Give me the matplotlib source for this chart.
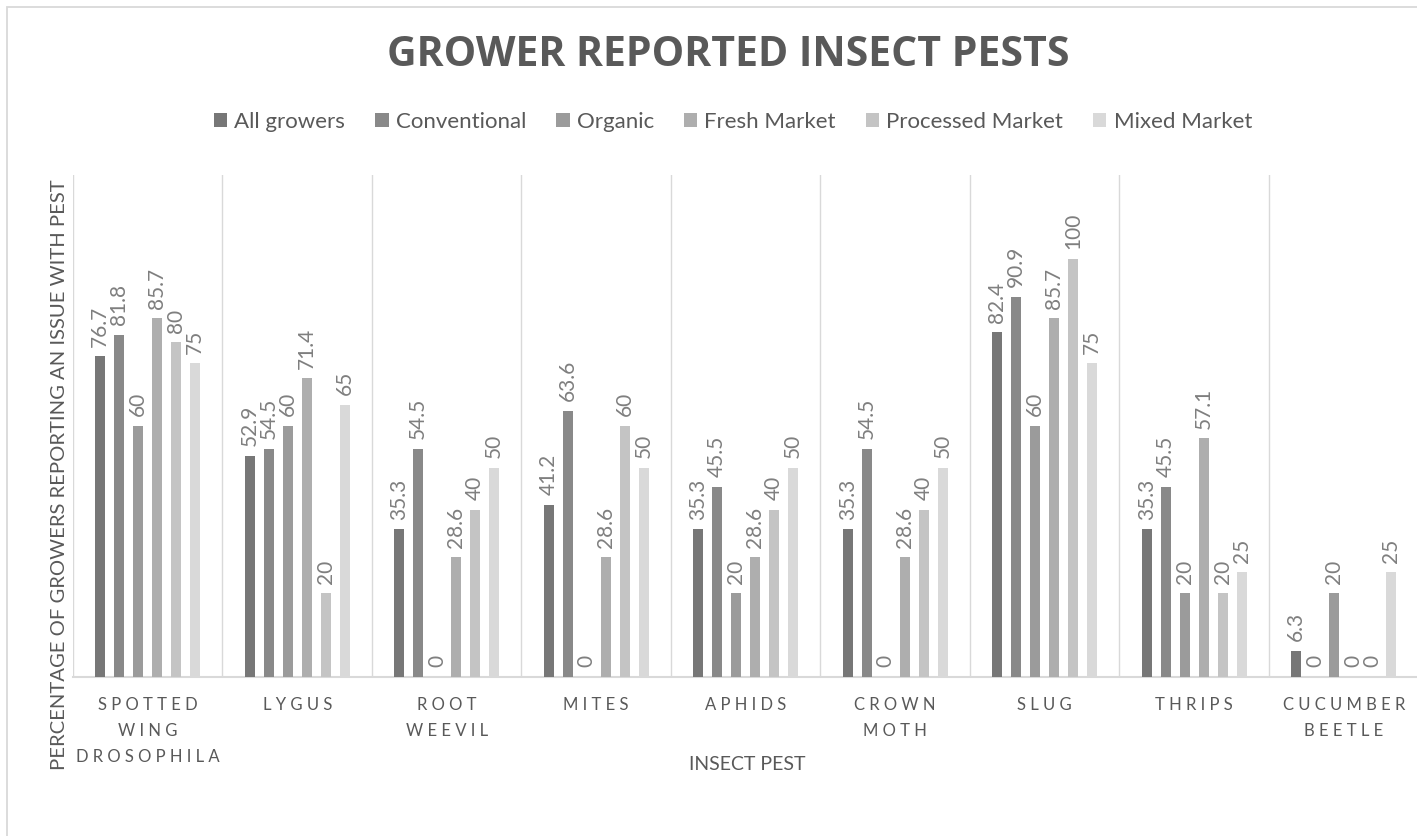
import matplotlib
matplotlib.use("Agg")
import matplotlib.pyplot as plt
from matplotlib.patches import Rectangle
import numpy as np

plt.rcParams['font.family'] = ['Lato', 'DejaVu Sans']

# data
pests = ["SPOTTED\nWING\nDROSOPHILA", "LYGUS", "ROOT\nWEEVIL", "MITES", "APHIDS",
         "CROWN\nMOTH", "SLUG", "THRIPS", "CUCUMBER\nBEETLE"]
series = ["All growers", "Conventional", "Organic", "Fresh Market",
          "Processed Market", "Mixed Market"]
all_growers = [76.7, 52.9, 35.3, 41.2, 35.3, 35.3, 82.4, 35.3, 6.3]
conventional = [81.8, 54.5, 54.5, 63.6, 45.5, 54.5, 90.9, 45.5, 0]
organic = [60, 60, 0, 0, 20, 0, 60, 20, 20]
fresh_market = [85.7, 71.4, 28.6, 28.6, 28.6, 28.6, 85.7, 57.1, 0]
processed_market = [80, 20, 40, 60, 40, 40, 100, 20, 0]
mixed_market = [75, 65, 50, 50, 50, 50, 75, 25, 25]
values = [all_growers, conventional, organic, fresh_market, processed_market, mixed_market]
colors = ["#777777", "#898989", "#9b9b9b", "#aeaeae", "#c4c4c4", "#d9d9d9"]

txt = "#595959"

fig = plt.figure(figsize=(14.17, 8.36), dpi=100)
W, H = 1417, 836
ax = fig.add_axes([73 / W, 1 - 677 / H, 9 * 149.5 / W, (677 - 175) / H])

x = np.arange(len(pests)) + 0.5
step = 19 / 149.5
bw = 10 / 149.5
for i, (name, vals, c) in enumerate(zip(series, values, colors)):
    xs = x + (i - 2.5) * step
    ax.bar(xs, vals, width=bw, color=c, label=name, zorder=3)
    for xx, v in zip(xs, vals):
        ax.text(xx, v + 2.3, "%g" % v, rotation=90, ha="center", va="bottom",
                fontsize=15, color="#7f7f7f")

ax.set_xlim(0, 9)
ax.set_ylim(0, 120)
ax.set_yticks([])
ax.set_xticks(np.arange(0, 10))
ax.set_xticklabels([])
ax.tick_params(axis="x", length=0)
ax.grid(axis="x", color="#d9d9d9", lw=1, zorder=0)
for s in ["top", "right", "left"]:
    ax.spines[s].set_visible(False)
ax.spines["bottom"].set_color("#d9d9d9")
ax.spines["bottom"].set_linewidth(1.5)

for xx, p in zip(x, pests):
    spaced = "\n".join(" ".join(list(line)) for line in p.split("\n"))
    ax.text(xx, -4.9, spaced, ha="center", va="top", fontsize=12, color=txt,
            linespacing=1.76, clip_on=False)

fig.text(60 / W, 1 - 475 / H, "PERCENTAGE OF GROWERS REPORTING AN ISSUE WITH PEST",
         rotation=90, ha="center", va="center", fontsize=14.6, color=txt)
fig.text(747 / W, 1 - 765 / H, "INSECT PEST", ha="center", va="center",
         fontsize=14, color=txt)
fig.text(728 / W, 1 - 55 / H, "GROWER REPORTED INSECT PESTS", ha="center",
         va="center", fontsize=29.5, fontweight="bold", color=txt,
         family=["Open Sans", "DejaVu Sans"])

fig.legend(loc="center", bbox_to_anchor=(733 / W, 1 - 122 / H), ncol=6,
           frameon=False, fontsize=16, handlelength=0.6, handleheight=0.6,
           handletextpad=0.32, columnspacing=1.35, labelcolor=txt)

fig.patches.append(Rectangle((7 / W, -0.1), 1.2, 1 - 7 / H + 0.1,
                             transform=fig.transFigure, fill=False,
                             edgecolor="#d9d9d9", lw=1.3))

fig.savefig("out.png", dpi=100)
